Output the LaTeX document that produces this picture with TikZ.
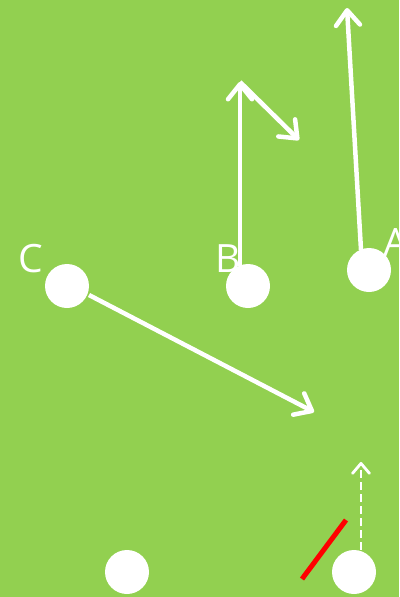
\documentclass[tikz,border=0pt]{standalone}
\usepackage{fontspec}
\setmainfont{Open Sans}
\usetikzlibrary{arrows.meta}
\definecolor{field}{HTML}{92D050}
\definecolor{redline}{HTML}{FF0000}
\begin{document}
\begin{tikzpicture}[x=1pt,y=-1pt,
  player/.style={circle,fill=white,minimum size=44pt,inner sep=0pt},
  lbl/.style={text=white,font=\fontsize{39}{39}\selectfont,inner sep=0pt},
  run/.style={draw=white,line width=4.5pt,-{Straight Barb[length=15pt,width=24pt,line width=4.5pt,round]}},
  pass/.style={draw=white,line width=2.8pt,dash pattern=on 8pt off 4pt,-{Straight Barb[length=10pt,width=17pt,line width=2.8pt,round]}}]
\fill[field] (0,0) rectangle (399,597);
\useasboundingbox (0,0) rectangle (399,597);
\node[player] (C) at (67,286) {};
\node[player] (B) at (248,286) {};
\node[player] (A) at (369,270) {};
\node[player] (D) at (127,572) {};
\node[player] (E) at (354,572) {};
\node[lbl] (lc) at (31,259) {C};
\node[lbl] (lb) at (228,259) {B};
\node[lbl] (la) at (396,243) {A};
\coordinate (b0) at (240,266);
\coordinate (b1) at (240,82);
\coordinate (b2) at (299,140);
\coordinate (a0) at (361,250);
\coordinate (a1) at (347,8);
\coordinate (c0) at (89,295);
\coordinate (c1) at (314,412);
\coordinate (e0) at (361,550);
\coordinate (e1) at (361,462);
\coordinate (r0) at (302,579);
\coordinate (r1) at (346,520);
\draw[run] (b0) -- (b1);
\draw[run] (b1) -- (b2);
\draw[run] (a0) -- (a1);
\draw[run] (c0) -- (c1);
\draw[pass] (e0) -- (e1);
\draw[redline,line width=5pt] (r0) -- (r1);
\end{tikzpicture}
\end{document}
